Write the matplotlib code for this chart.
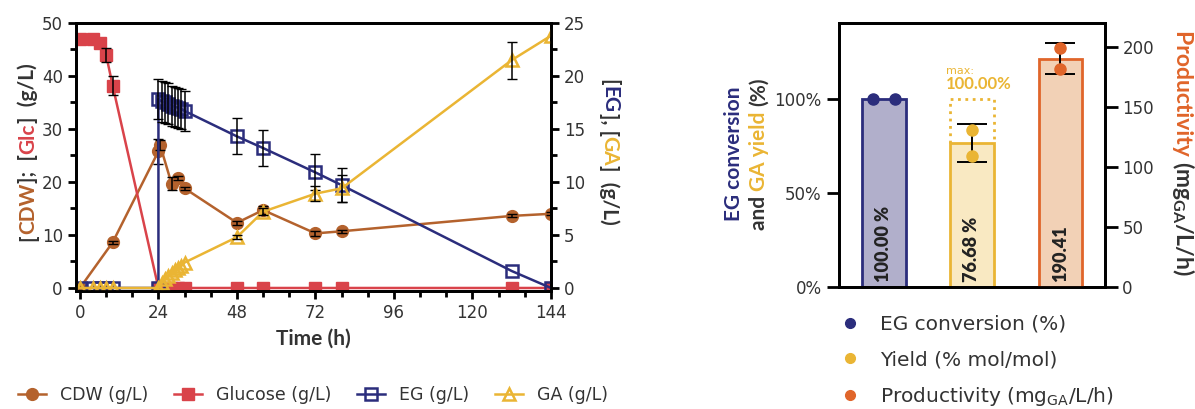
import matplotlib
matplotlib.use('Agg')
import matplotlib.pyplot as plt
from matplotlib.lines import Line2D
from matplotlib.ticker import MultipleLocator, PercentFormatter
from matplotlib.transforms import IdentityTransform

plt.rcParams['font.family'] = ['DejaVu Sans']
plt.rcParams['mathtext.default'] = 'regular'
BOLD = ['Lato', 'DejaVu Sans']

BROWN = '#B4622D'
RED = '#D9434A'
NAVY = '#2B2D7C'
GOLD = '#EAB534'
ORANGE = '#E0652A'
DARK = '#333333'

# ---- time course (left panel) ----
t_cdw = [0, 10, 24, 24.5, 28, 30, 32, 48, 56, 72, 80, 132, 144]
cdw = [0, 8.6, 25.8, 27.0, 19.7, 20.8, 18.8, 12.3, 14.7, 10.3, 10.7, 13.6, 14.0]
cdw_err = [0, 0.3, 2.4, 1.0, 1.2, 0.4, 0.3, 0.4, 0.8, 0.4, 0.3, 0.3, 0.3]

t_glc = [0, 4, 6, 8, 10, 24, 26, 28, 30, 32, 48, 56, 72, 80, 132, 144]
glc = [47.0, 47.0, 46.2, 44.0, 38.2, 0, 0, 0, 0, 0, 0, 0, 0, 0, 0, 0]
glc_err = [0, 0, 0, 1.3, 1.8, 0, 0, 0, 0, 0, 0, 0, 0, 0, 0, 0]

t_eg = [0, 4, 6, 8, 10, 24, 24, 25, 26, 27, 28, 29, 30, 31, 32, 48, 56, 72, 80, 132, 144]
eg = [0, 0, 0, 0, 0, 0, 17.8, 17.6, 17.5, 17.4, 17.2, 17.1, 17.0, 16.9, 16.7,
      14.3, 13.2, 10.9, 9.7, 1.6, 0]
eg_err = [0, 0, 0, 0, 0, 0, 1.9, 1.9, 1.9, 1.9, 1.9, 1.9, 1.9, 1.9, 1.9,
          1.7, 1.7, 1.7, 1.6, 0, 0]

t_ga = [0, 4, 6, 8, 10, 24, 25, 26, 27, 28, 29, 30, 31, 32, 48, 56, 72, 80, 132, 144]
ga = [0, 0, 0, 0, 0, 0, 0.5, 0.8, 1.1, 1.4, 1.7, 1.9, 2.1, 2.4, 4.8, 7.2, 8.9, 9.4, 21.5, 23.8]
ga_err = [0, 0, 0, 0, 0, 0, 0, 0, 0, 0, 0, 0, 0, 0, 0.2, 0.3, 0.7, 1.3, 1.75, 0]

# ---- summary (right panel) ----
eg_conv = 100.00
eg_conv_reps = [100.0, 100.0]
ga_yield = 76.68
ga_yield_reps = [83.6, 69.7]
ga_yield_sd = 10.1
ga_yield_max = 100.0
prod = 190.41
prod_reps = [199.5, 181.3]
prod_sd = 13.3

W, H = 1195, 409
fig = plt.figure(figsize=(W / 100, H / 100), dpi=100)


def box(x0, y_top, x1, y_bot):
    return [x0 / W, 1 - y_bot / H, (x1 - x0) / W, (y_bot - y_top) / H]


def style_axis(a):
    for s in a.spines.values():
        s.set_linewidth(2)
        s.set_color('black')
    a.tick_params(which='major', direction='out', length=6, width=2,
                  labelsize=12, labelcolor=DARK)
    a.tick_params(which='minor', direction='out', length=4, width=2)


def nz(x, y, e):
    keep = [i for i in range(len(e)) if e[i] > 0]
    return [x[i] for i in keep], [y[i] for i in keep], [e[i] for i in keep]


ax = fig.add_axes(box(76, 23, 551, 291))
ax2 = ax.twinx()
style_axis(ax)
style_axis(ax2)

ax.plot(t_cdw, cdw, '-o', color=BROWN, lw=1.8, ms=8.5, label='CDW (g/L)')
ax.errorbar(*nz(t_cdw, cdw, cdw_err), fmt='none', ecolor='black', elinewidth=1.1, capsize=3.5)
ax.plot(t_glc, glc, '-s', color=RED, lw=1.8, ms=8.5, label='Glucose (g/L)')
ax.errorbar(*nz(t_glc, glc, glc_err), fmt='none', ecolor='black', elinewidth=1.1, capsize=3.5)

ax2.plot(t_eg, eg, '-s', color=NAVY, lw=1.8, ms=8.5, mfc='none', mew=1.8, label='EG (g/L)')
ax2.errorbar(*nz(t_eg, eg, eg_err), fmt='none', ecolor='black', elinewidth=1.1, capsize=3.5)
ax2.plot(t_ga, ga, '-^', color=GOLD, lw=1.8, ms=8.5, mfc='none', mew=1.8, label='GA (g/L)')
ax2.errorbar(*nz(t_ga, ga, ga_err), fmt='none', ecolor='black', elinewidth=1.1, capsize=3.5)

ax.set_xlim(-1.2, 144)
ax.set_ylim(-0.57, 50)
ax2.set_ylim(-0.285, 25)
ax.xaxis.set_major_locator(MultipleLocator(24))
ax.xaxis.set_minor_locator(MultipleLocator(8))
ax.yaxis.set_major_locator(MultipleLocator(10))
ax.yaxis.set_minor_locator(MultipleLocator(5))
ax2.yaxis.set_major_locator(MultipleLocator(5))
ax2.yaxis.set_minor_locator(MultipleLocator(2.5))
ax.set_xlabel('Time (h)', fontsize=15, fontweight='bold', family=BOLD, color=DARK, labelpad=5)

h1, l1 = ax.get_legend_handles_labels()
h2, l2 = ax2.get_legend_handles_labels()
fig.legend(h1 + h2, l1 + l2, loc='center left', bbox_to_anchor=(18 / W, 1 - 395 / H),
           ncol=4, frameon=False, fontsize=12.5, handlelength=1.6, handletextpad=0.8,
           columnspacing=1.5, borderpad=0, borderaxespad=0, labelcolor=DARK)

# ---- right panel ----
bx = fig.add_axes(box(839, 23, 1105, 287))
bx2 = bx.twinx()
for a in (bx, bx2):
    for s in a.spines.values():
        s.set_linewidth(2)
        s.set_color('black')
    a.tick_params(direction='out', length=9, width=2, labelsize=12, labelcolor=DARK)
bx.set_xticks([])
bx.set_xlim(-0.51, 2.51)
bx.set_ylim(0, 140.4)
bx2.set_ylim(0, 220)
bx.set_yticks([0, 50, 100])
bx.yaxis.set_major_formatter(PercentFormatter(decimals=0))
bx2.set_yticks([0, 50, 100, 150, 200])

bw = 0.49
bx.bar(0, eg_conv, bw, color='#B1AFCB', edgecolor=NAVY, lw=2)
bx.bar(1, ga_yield, bw, color='#F9E9C2', edgecolor=GOLD, lw=2)
bx2.bar(2, prod, bw, color='#F2D1B6', edgecolor=ORANGE, lw=2)

# dotted outline up to the maximum yield
bx.plot([1 - bw / 2, 1 - bw / 2, 1 + bw / 2, 1 + bw / 2],
        [ga_yield, ga_yield_max, ga_yield_max, ga_yield], ls=':', color=GOLD, lw=2)
bx.text(0.70, 115, 'max:', color=GOLD, fontsize=8, ha='left', va='center')
bx.text(0.70, 108, '%.2f%%' % ga_yield_max, color=GOLD, fontsize=12,
        fontweight='bold', family=BOLD, ha='left', va='center')

bx.plot([-0.125, 0.125], eg_conv_reps, 'o', color=NAVY, ms=8, clip_on=False, zorder=5)
bx.errorbar(1, ga_yield, yerr=ga_yield_sd, fmt='none', ecolor='black', elinewidth=1.4,
            capsize=11, capthick=1.4, zorder=4)
bx.plot([1, 1], ga_yield_reps, 'o', color=GOLD, ms=8, zorder=5)
bx2.errorbar(2, prod, yerr=prod_sd, fmt='none', ecolor='black', elinewidth=1.4,
             capsize=11, capthick=1.4, zorder=4)
bx2.plot([2, 2], prod_reps, 'o', color=ORANGE, ms=8, zorder=5)

for xi, s in zip([0, 1, 2], ['%.2f %%' % eg_conv, '%.2f %%' % ga_yield, '%.2f' % prod]):
    bx2.text(xi, 4, s, rotation=90, ha='center', va='bottom', fontsize=13,
             fontweight='heavy', family=BOLD, color='#222222', zorder=6)

fig.legend([Line2D([], [], marker='o', ls='none', color=c, ms=7) for c in (NAVY, GOLD, ORANGE)],
           ['EG conversion (%)', 'Yield (% mol/mol)', 'Productivity (mg$_{GA}$/L/h)'],
           loc='upper left', bbox_to_anchor=(840 / W, 1 - 315 / H), frameon=False,
           fontsize=14.5, handlelength=1.0, handletextpad=1.0, labelspacing=0.8,
           borderpad=0, borderaxespad=0, labelcolor=DARK)


# ---- multi-coloured rotated axis titles ----
def color_text(x, y, parts, rotation, size=15):
    r = fig.canvas.get_renderer()
    kw = dict(fontsize=size, fontweight='bold', family=BOLD)

    def width(s):
        t = fig.text(0, 0, s, **kw)
        w = t.get_window_extent(r).width
        t.remove()
        return w

    ref = width('X')
    full = ''.join(p for p, c in parts)
    total = width(full + 'X') - ref
    sign = 1 if rotation == 90 else -1
    yd = H - y
    start = yd - sign * total / 2
    prefix = ''
    for s, c in parts:
        off = width(prefix + 'X') - ref if prefix else 0
        fig.text(x, start + sign * off, s, color=c, rotation=rotation,
                 rotation_mode='anchor', ha='left', va='baseline',
                 transform=IdentityTransform(), **kw)
        prefix += s


color_text(34, 152, [('[', DARK), ('CDW', BROWN), ('];  [', DARK), ('Glc', RED), (']  (g/L)', DARK)], 90)
color_text(603, 152, [('[', DARK), ('EG', NAVY), ('], [', DARK), ('GA', GOLD), (']  (g/L)', DARK)], 270)
color_text(740, 154, [('EG conversion', NAVY)], 90)
color_text(765, 154, [('and ', DARK), ('GA yield ', GOLD), ('(%)', DARK)], 90)
color_text(1176, 153, [('Productivity ', ORANGE), ('(mg$_{GA}$/L/h)', DARK)], 270, size=16.5)

fig.savefig('out.png', dpi=100)
